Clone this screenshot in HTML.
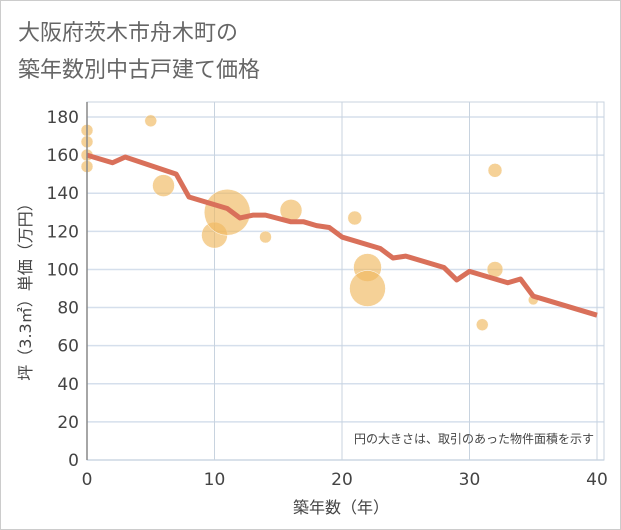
<!DOCTYPE html>
<html><head><meta charset="utf-8"><style>
body{margin:0;background:#fff}
#wrap{width:619px;height:528px;border:1px solid #ccc;position:relative;font-family:"DejaVu Sans","Noto Sans CJK JP",sans-serif}
</style></head><body>
<div id="wrap">
<svg id="chart" width="621" height="530" style="position:absolute;left:-1px;top:-1px">
<text x="18" y="40" font-size="22" fill="#666" font-family="DejaVu Sans, Noto Sans CJK JP, sans-serif">大阪府茨木市舟木町の</text>
<text x="18" y="77" font-size="22" fill="#666" font-family="DejaVu Sans, Noto Sans CJK JP, sans-serif">築年数別中古戸建て価格</text>
<g id="grid"></g><g id="bubbles"></g><g id="line"></g><g id="axes"></g>
<text x="594" y="443" font-size="12" fill="#444" text-anchor="end" font-family="DejaVu Sans, Noto Sans CJK JP, sans-serif">円の大きさは、取引のあった物件面積を示す</text>
<text x="341" y="513" font-size="16" fill="#444" text-anchor="middle" font-family="DejaVu Sans, Noto Sans CJK JP, sans-serif">築年数（年）</text>
<text transform="translate(31,288) rotate(-90)" font-size="16" fill="#444" text-anchor="middle" font-family="DejaVu Sans, Noto Sans CJK JP, sans-serif">坪（3.3㎡）単価（万円）</text>
</svg>
</div>
<script>
const xTicks=[0,10,20,30,40];
const yTicks=[0,20,40,60,80,100,120,140,160,180];
const lineYears=[0,2,3,7,8,11,12,13,14,16,17,18,19,20,23,24,25,28,29,30,33,34,35,36,40];
const lineValues=[160,156,159,150,138,132,127,128.5,128.5,125,125,123,122,117,111,106,107,101,94.5,99,93,95,86,84,76];
const bubbleYears=[0,0,0,0,5,6,10,11,14,16,21,22,22,31,32,32,35];
const bubbleValues=[173,167,160,154,178,144,118,130,117,131,127,101,90,71,152,100,84];
const bubbleSizes=[6,6,6,6,6,11,13,23,6,11,7,14,18,6,7,8,5];
const X0=87,X1=597,Y0=460,Y1=117,L=87,R=604,T=102;
const sx=v=>X0+(X1-X0)*v/40, sy=v=>Y0-(Y0-Y1)*v/180;
const NS="http://www.w3.org/2000/svg";
function mk(t,a,p){const e=document.createElementNS(NS,t);for(const k in a)e.setAttribute(k,a[k]);p.appendChild(e);return e;}
const grid=document.getElementById('grid'),axes=document.getElementById('axes');
yTicks.forEach(v=>{const g=mk('line',{x1:L,x2:R,y1:sy(v),y2:sy(v),stroke:'#d5dfec','stroke-width':1.5},grid);

const t=mk('text',{x:79,y:sy(v)+6,'text-anchor':'end','font-size':17,fill:'#444','font-family':'DejaVu Sans, sans-serif'},axes);t.textContent=v;
});
xTicks.forEach(v=>{const g=mk('line',{x1:sx(v),x2:sx(v),y1:T,y2:Y0,stroke:'#c8d3df','stroke-width':1},grid);

const t=mk('text',{x:sx(v),y:485,'text-anchor':'middle','font-size':17,fill:'#444','font-family':'DejaVu Sans, sans-serif'},axes);t.textContent=v;
});
const fr=mk('rect',{x:L,y:T,width:R-L,height:Y0-T,fill:'none',stroke:'#c8d3df'},grid);

const ax=mk('line',{x1:L,x2:L,y1:T,y2:Y0,stroke:'#888','stroke-width':1.5},axes);

const bg=document.getElementById('bubbles');
bubbleYears.forEach((yr,i)=>{const c=mk('circle',{cx:sx(yr),cy:sy(bubbleValues[i]),r:bubbleSizes[i],fill:'rgba(240,185,95,0.65)',stroke:'#fff','stroke-width':0.5},bg);
});
const p=mk('polyline',{points:lineYears.map((y,i)=>sx(y)+','+sy(lineValues[i])).join(' '),fill:'none',stroke:'#d9705a','stroke-width':5,'stroke-linejoin':'round'},document.getElementById('line'));

</script>
</body></html>
